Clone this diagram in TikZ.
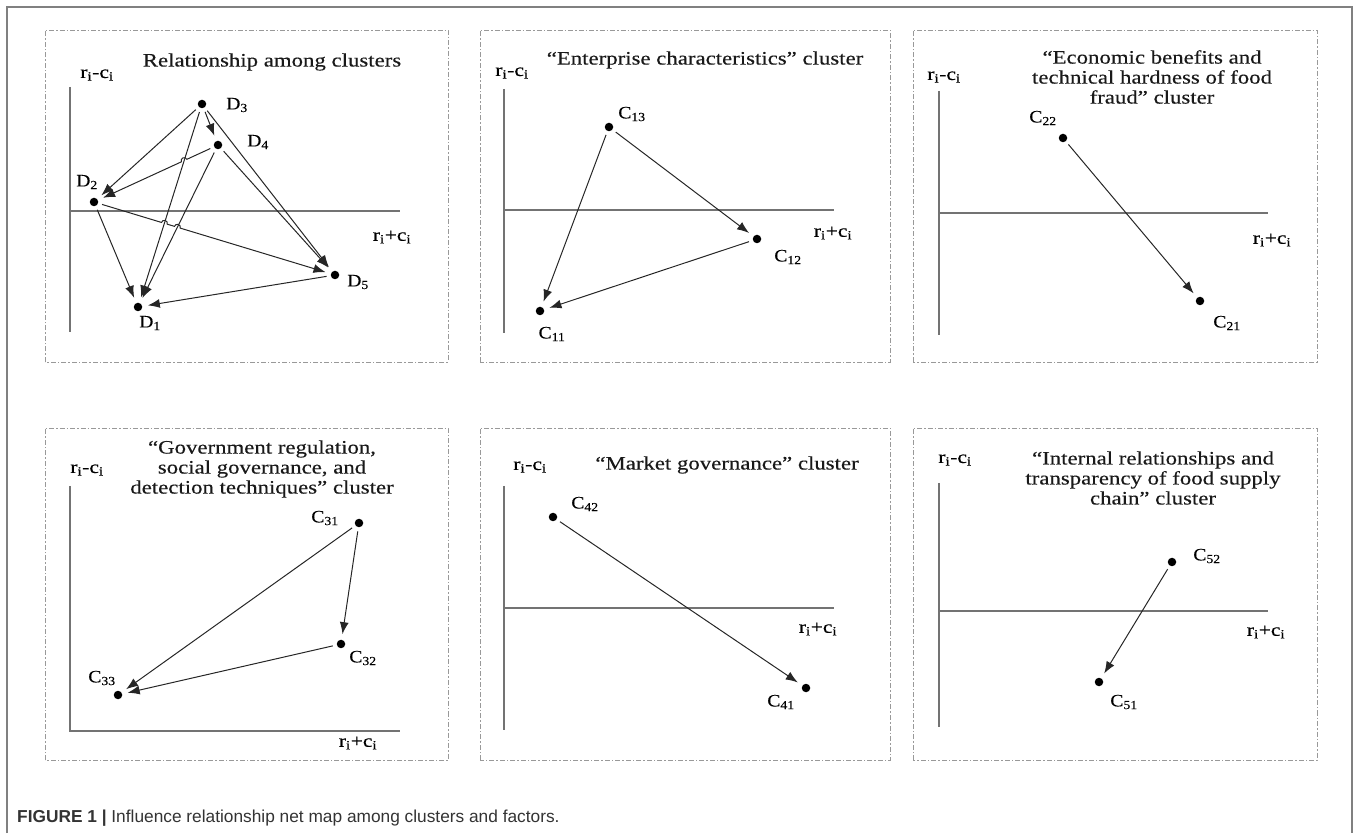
\documentclass[tikz,border=0pt]{standalone}
\usepackage{fontspec}
\setmainfont{Liberation Serif}
\newfontfamily\widefont{Liberation Serif}[FakeStretch=1.2, FakeBold=0.3]
\newfontfamily\labfont{Liberation Serif}[FakeStretch=1.12, FakeBold=0.2]
\newfontfamily\capfont{Liberation Sans}
\usetikzlibrary{arrows.meta,calc}

\tikzset{
  panel/.style={draw=black!40, line width=0.8pt, dash pattern=on 5pt off 2pt on 1.5pt off 2pt},
  axis/.style={draw=black!55, line width=1.1pt},
  fdot/.style={circle, fill=black, inner sep=0pt, minimum size=8.5pt},
  link/.style={->, draw=black!85, line width=1pt, shorten >=5.5pt, shorten <=4pt},
  ttl/.style={font=\widefont\fontsize{19}{20}\selectfont, align=center, text=black!90},
  axlab/.style={font=\widefont\fontsize{18}{20}\selectfont},
  lab/.style={font=\labfont\fontsize{17.5}{20}\selectfont},
}

% arrow with one hop: from, to, fraction, turn
\newcommand{\hoplink}[4]{%
  \draw[link] let \p1=($(#2)-(#1)$), \n1={atan2(\y1,\x1)} in
    (#1) -- ($(#1)!#3!(#2)$) arc[start angle=\n1+180, delta angle=#4, radius=3pt] -- (#2);}

\begin{document}
\begin{tikzpicture}[x=1pt, y=1pt, >={Latex[length=12pt,width=9pt]}]
  \useasboundingbox (0,0) rectangle (1357,833);

  % Kader
  \draw[black!50, line width=1.5pt] (7,0) -- (7,826) -- (1352,826) -- (1352,0);

  % Panelen
  \foreach \xa/\xb in {45/448, 480/890, 913/1317}{
    \draw[panel] (\xa,471) rectangle (\xb,803);
    \draw[panel] (\xa,73) rectangle (\xb,405);
  }

  % Relationship among clusters
  \node[ttl] (t1) at (272,771) {Relationship among clusters};
  \node[axlab] (y1) at (97,758) {r\textsubscript{i}-c\textsubscript{i}};
  \node[axlab] (x1) at (392,596) {r\textsubscript{i}+c\textsubscript{i}};
  \draw[axis] (70,746) -- (70,501);
  \draw[axis] (70,622) -- (400,622);

  \node[fdot] (D1) at (138,526) {};
  \node[fdot] (D2) at (94,631) {};
  \node[fdot] (D3) at (202,729) {};
  \node[fdot] (D4) at (218,688) {};
  \node[fdot] (D5) at (335,558) {};
  \node[lab] (lD1) at (150,510) {D\textsubscript{1}};
  \node[lab] (lD2) at (87,651) {D\textsubscript{2}};
  \node[lab] (lD3) at (237,728) {D\textsubscript{3}};
  \node[lab] (lD4) at (258,691) {D\textsubscript{4}};
  \node[lab] (lD5) at (358,551) {D\textsubscript{5}};

  \draw[link] (D3) -- (D2);
  \draw[link] (D3) -- (D4);
  \draw[link] (D3) -- (D1);
  \draw[link] (D3) -- (D5);
  \hoplink{D4}{D2}{0.251}{180}
  \draw[link] (D4) -- (D1);
  \draw[link] (D4) -- (D5);
  \draw[link] (D2) -- (D1);
  \draw[link] let \p1=($(D5)-(D2)$), \n1={atan2(\y1,\x1)} in
    (D2) -- ($(D2)!0.280!(D5)$) arc[start angle=\n1+180, delta angle=-180, radius=3pt]
    -- ($(D2)!0.334!(D5)$) arc[start angle=\n1+180, delta angle=-180, radius=3pt] -- (D5);
  \draw[link] (D5) -- (D1);

  % Enterprise characteristics
  \node[ttl] (t2) at (705,773) {“Enterprise characteristics” cluster};
  \node[axlab] (y2) at (512,760) {r\textsubscript{i}-c\textsubscript{i}};
  \node[axlab] (x2) at (833,600) {r\textsubscript{i}+c\textsubscript{i}};
  \draw[axis] (504,744) -- (504,500);
  \draw[axis] (504,623) -- (834,623);

  \node[fdot] (C11) at (540,522) {};
  \node[fdot] (C12) at (757,594) {};
  \node[fdot] (C13) at (609,706) {};
  \node[lab] (lC11) at (552,499) {C\textsubscript{11}};
  \node[lab] (lC12) at (788,576) {C\textsubscript{12}};
  \node[lab] (lC13) at (632,719) {C\textsubscript{13}};

  \draw[link] (C13) -- (C12);
  \draw[link] (C13) -- (C11);
  \draw[link] (C12) -- (C11);

  % Economic benefits
  \node[ttl] (t3) at (1152,756) {“Economic benefits and\\technical hardness of food\\fraud” cluster};
  \node[axlab] (y3) at (944,756) {r\textsubscript{i}-c\textsubscript{i}};
  \node[axlab] (x3) at (1272,593) {r\textsubscript{i}+c\textsubscript{i}};
  \draw[axis] (939,742) -- (939,498);
  \draw[axis] (939,620) -- (1268,620);

  \node[fdot] (C21) at (1200,532) {};
  \node[fdot] (C22) at (1063,695) {};
  \node[lab] (lC21) at (1227,510) {C\textsubscript{21}};
  \node[lab] (lC22) at (1043,715) {C\textsubscript{22}};

  \draw[link] (C22) -- (C21);

  % Government regulation
  \node[ttl] (t4) at (262,364) {“Government regulation,\\social governance, and\\detection techniques” cluster};
  \node[axlab] (y4) at (87,363) {r\textsubscript{i}-c\textsubscript{i}};
  \node[axlab] (x4) at (358,90) {r\textsubscript{i}+c\textsubscript{i}};
  \draw[axis] (70,347) -- (70,102) -- (400,102);

  \node[fdot] (C31) at (359,310) {};
  \node[fdot] (C32) at (341,189) {};
  \node[fdot] (C33) at (118,138) {};
  \node[lab] (lC31) at (325,315) {C\textsubscript{31}};
  \node[lab] (lC32) at (363,175) {C\textsubscript{32}};
  \node[lab] (lC33) at (102,155) {C\textsubscript{33}};

  \draw[link] (C31) -- (C32);
  \draw[link] (C31) -- (C33);
  \draw[link] (C32) -- (C33);

  % Market governance
  \node[ttl] (t5) at (727,368) {“Market governance” cluster};
  \node[axlab] (y5) at (530,366) {r\textsubscript{i}-c\textsubscript{i}};
  \node[axlab] (x5) at (818,204) {r\textsubscript{i}+c\textsubscript{i}};
  \draw[axis] (504,347) -- (504,103);
  \draw[axis] (504,225) -- (834,225);

  \node[fdot] (C41) at (806,145) {};
  \node[fdot] (C42) at (553,316) {};
  \node[lab] (lC41) at (781,131) {C\textsubscript{41}};
  \node[lab] (lC42) at (585,329) {C\textsubscript{42}};

  \draw[link] (C42) -- (C41);

  % Food supply chain
  \node[ttl] (t6) at (1153,355) {“Internal relationships and\\transparency of food supply\\chain” cluster};
  \node[axlab] (y6) at (955,373) {r\textsubscript{i}-c\textsubscript{i}};
  \node[axlab] (x6) at (1266,201) {r\textsubscript{i}+c\textsubscript{i}};
  \draw[axis] (939,350) -- (939,106);
  \draw[axis] (939,222) -- (1268,222);

  \node[fdot] (C51) at (1099,151) {};
  \node[fdot] (C52) at (1172,271) {};
  \node[lab] (lC51) at (1124,131) {C\textsubscript{51}};
  \node[lab] (lC52) at (1207,277) {C\textsubscript{52}};

  \draw[link] (C52) -- (C51);

  % Onderschrift
  \node[anchor=base west, inner sep=0pt, text=black!80, font=\capfont\fontsize{17.3}{19}\selectfont] (cap) at (17,11)
    {\textbf{FIGURE 1 |} Influence relationship net map among clusters and factors.};

\end{tikzpicture}
\end{document}
